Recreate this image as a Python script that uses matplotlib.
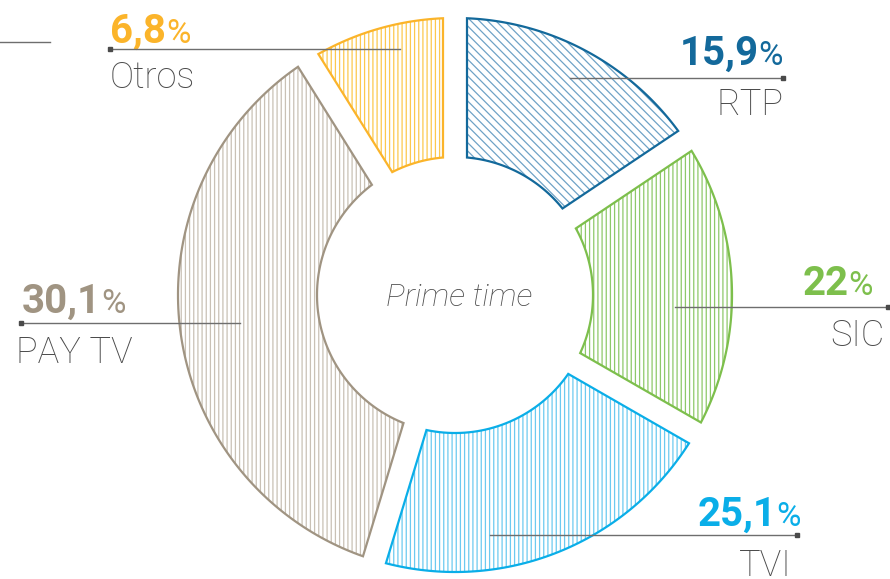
import numpy as np
import matplotlib
matplotlib.use("Agg")
import matplotlib.pyplot as plt
from matplotlib.patches import Polygon

# ---- data ----
channels = ["RTP", "SIC", "TVI", "PAY TV", "Otros"]
shares = [15.9, 22, 25.1, 30.1, 6.8]            # printed values (%)
drawn_shares = [15.6, 17.7, 21.4, 36.4, 8.9]     # angular extent of each ring slice as drawn (%)
center_label = "Prime time"

edge_colors = ["#13699b", "#7dbf4c", "#0aaee8", "#a09482", "#fbb42a"]
hatch_colors = ["#6ea2c6", "#8ec96a", "#6ccaf0", "#c9c1b5", "#fcc84e"]
hatches = ["\\\\\\\\", "||||", "||||", "||||", "||||"]

plt.rcParams['font.family'] = ['Roboto', 'DejaVu Sans']
plt.rcParams['hatch.linewidth'] = 0.9

fig = plt.figure(figsize=(8.9, 5.79), dpi=100)
ax = fig.add_axes([0, 0, 1, 1])
ax.set_xlim(0, 890)
ax.set_ylim(579, 0)
ax.axis('off')

cx, cy = 455, 295
R_out, R_in, half_gap = 277, 138, 12

def pt(rho, deg):
    t = np.radians(deg)
    return cx + rho * np.cos(t), cy - rho * np.sin(t)

cum = np.concatenate([[0], np.cumsum(drawn_shares)])
total = cum[-1]
for i in range(len(channels)):
    a0 = 90 - 360 * cum[i] / total
    a1 = 90 - 360 * cum[i + 1] / total
    do = np.degrees(np.arcsin(half_gap / R_out))
    di = np.degrees(np.arcsin(half_gap / R_in))
    outer = np.linspace(a0 - do, a1 + do, 120)
    inner = np.linspace(a1 + di, a0 - di, 80)
    verts = [pt(R_out, a) for a in outer] + [pt(R_in, a) for a in inner]
    ax.add_patch(Polygon(verts, closed=True, facecolor='none', edgecolor=hatch_colors[i],
                         hatch=hatches[i], linewidth=0, zorder=1))
    ax.add_patch(Polygon(verts, closed=True, facecolor='none', edgecolor=edge_colors[i],
                         linewidth=1.6, joinstyle='miter', zorder=2))

ax.text(cx + 4, 306, center_label, ha='center', va='baseline', fontsize=23,
        fontstyle='italic', fontweight='light', color='#4d4d4d')

# label layout: (x_num, ha, num_baseline, x_label, label_baseline, line_x0, line_x1, line_y, dot_x)
layout = {
    "Otros":  (110, 'left', 43, 110, 88, 110, 400, 49, 110),
    "RTP":    (783, 'right', 65, 783, 115, 570, 783, 78, 783),
    "SIC":    (873, 'right', 295, 885, 346, 675, 888, 307, 888),
    "TVI":    (801, 'right', 526, 792, 576, 490, 797, 535, 797),
    "PAY TV": (22, 'left', 313, 16, 363, 21, 240, 323, 21),
}

# stray leader line at top left
ax.plot([0, 50], [42, 42], color='#6e6e6e', lw=1.0, zorder=3)

fig.canvas.draw()
renderer = fig.canvas.get_renderer()
inv = ax.transData.inverted()

def fmt(v):
    return f"{v:g}".replace('.', ',')

NUM_FS, PCT_FS, LAB_FS = 29, 24, 26
for i, name in enumerate(channels):
    xn, ha, nb, xl, lb, lx0, lx1, ly, dx = layout[name]
    col = edge_colors[i]
    num = fmt(shares[i])
    if ha == 'left':
        t = ax.text(xn, nb, num, ha='left', va='baseline', fontsize=NUM_FS, fontweight='bold', color=col)
        bb = t.get_window_extent(renderer)
        x_end = inv.transform((bb.x1, bb.y0))[0]
        ax.text(x_end, nb, "%", ha='left', va='baseline', fontsize=PCT_FS, color=col)
    else:
        p = ax.text(xn, nb, "%", ha='right', va='baseline', fontsize=PCT_FS, color=col)
        bb = p.get_window_extent(renderer)
        x_start = inv.transform((bb.x0, bb.y0))[0]
        ax.text(x_start, nb, num, ha='right', va='baseline', fontsize=NUM_FS, fontweight='bold', color=col)
    ax.text(xl, lb, name, ha=ha, va='baseline', fontsize=LAB_FS, fontweight='light', color='#4a4a4a')
    ax.plot([lx0, lx1], [ly, ly], color='#6e6e6e', lw=1.0, zorder=3)
    ax.plot([dx], [ly], marker='s', ms=2.5, color='#4a4a4a', zorder=4)

fig.savefig("out.png", dpi=100)
